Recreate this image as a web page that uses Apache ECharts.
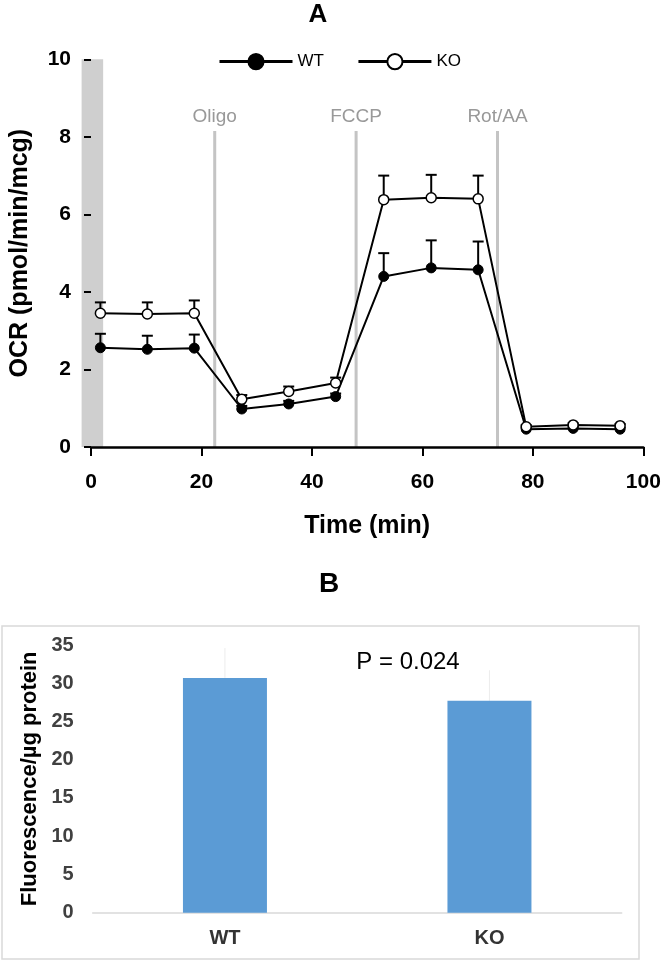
<!DOCTYPE html>
<html>
<head>
<meta charset="utf-8">
<script src="https://cdn.jsdelivr.net/npm/echarts@6/dist/echarts.min.js"></script>
<style>html,body{margin:0;padding:0;background:#fff}#c{width:664px;height:963px}</style>
</head>
<body>
<div id="c"></div>
<script>
// ---- Panel A data ----
var timeMin = [1.7, 10.2, 18.7, 27.3, 35.8, 44.3, 53.0, 61.6, 70.1, 78.8, 87.3, 95.8];
var wtOCR   = [2.56, 2.52, 2.55, 0.98, 1.11, 1.30, 4.40, 4.62, 4.57, 0.46, 0.48, 0.46];
var wtErr   = [0.36, 0.35, 0.35, 0.08, 0.08, 0.08, 0.60, 0.71, 0.73, 0.04, 0.04, 0.04];
var koOCR   = [3.45, 3.43, 3.45, 1.23, 1.43, 1.65, 6.38, 6.43, 6.40, 0.52, 0.57, 0.55];
var koErr   = [0.28, 0.30, 0.33, 0.11, 0.13, 0.14, 0.62, 0.59, 0.60, 0.04, 0.04, 0.04];
var injectNames = ['Oligo', 'FCCP', 'Rot/AA'];
var injectTimes = [22.4, 48.0, 73.6];
var injectTop = 8.15;
var baselineBand = [-1.7, 2.2];
var xTicksA = {min: 0, max: 100, interval: 20};
var yTicksA = {min: 0, max: 10, interval: 2};
// ---- Panel B data ----
var groupsB = ['WT', 'KO'];
var fluorB = [30.7, 27.7];
var fluorErrB = [3.9, 4.0];
var yTicksB = {min: 0, max: 35, interval: 5};
var pText = 'P = 0.024';

var FF = '"Liberation Sans", Arial, sans-serif';
var chart = echarts.init(document.getElementById('c'), null, {renderer: 'canvas'});

function errRender(capHalf, color, lw) {
  return function (params, api) {
    var x = api.value(0), y = api.value(1), e = api.value(2);
    var p0 = api.coord([x, y]);
    var p1 = api.coord([x, y + e]);
    return {
      type: 'group',
      children: [
        {type: 'line', shape: {x1: p0[0], y1: p0[1], x2: p1[0], y2: p1[1]}, style: {stroke: color, lineWidth: lw}},
        {type: 'line', shape: {x1: p1[0] - capHalf, y1: p1[1], x2: p1[0] + capHalf, y2: p1[1]}, style: {stroke: color, lineWidth: lw}}
      ]
    };
  };
}

var option = {
  animation: false,
  backgroundColor: '#fff',
  textStyle: {fontFamily: FF},
  graphic: [
    {type: 'text', style: {text: 'A', x: 318, y: 15, font: 'bold 26px ' + FF, fill: '#000', align: 'center', verticalAlign: 'middle'}},
    {type: 'text', style: {text: 'B', x: 329, y: 584, font: 'bold 28px ' + FF, fill: '#000', align: 'center', verticalAlign: 'middle'}},
    {type: 'rect', shape: {x: 2, y: 626, width: 637, height: 333}, style: {fill: 'none', stroke: '#d9d9d9', lineWidth: 1.5}},
    {type: 'text', style: {text: pText, x: 408, y: 662, font: '24px ' + FF, fill: '#000', align: 'center', verticalAlign: 'middle'}}
  ],
  legend: {
    data: ['WT', 'KO'],
    left: 218, top: 53, padding: 0,
    itemWidth: 73, itemHeight: 19, itemGap: 33,
    textStyle: {fontSize: 17, color: '#000', fontFamily: FF},
    lineStyle: {width: 3}
  },
  grid: [
    {left: 88.3, right: 20.7, top: 59.3, bottom: 516},
    {left: 92.7, width: 529, top: 645, height: 267.7}
  ],
  xAxis: [
    {
      gridIndex: 0, type: 'value', min: xTicksA.min, max: xTicksA.max, interval: xTicksA.interval,
      axisLine: {show: true, lineStyle: {color: '#000', width: 2.5}},
      axisTick: {show: true, length: 9, lineStyle: {color: '#000', width: 2}},
      axisLabel: {fontSize: 21, fontWeight: 'bold', color: '#000', margin: 25, fontFamily: FF},
      splitLine: {show: false},
      name: 'Time (min)', nameLocation: 'middle', nameGap: 67,
      nameTextStyle: {fontSize: 25, fontWeight: 'bold', color: '#000', fontFamily: FF}
    },
    {
      gridIndex: 1, type: 'category', data: groupsB,
      axisLine: {show: true, lineStyle: {color: '#d9d9d9', width: 1.5}},
      axisTick: {show: false},
      axisLabel: {fontSize: 20, fontWeight: 'bold', color: '#333', margin: 16, fontFamily: FF}
    }
  ],
  yAxis: [
    {
      gridIndex: 0, type: 'value', min: yTicksA.min, max: yTicksA.max, interval: yTicksA.interval,
      axisLine: {show: false},
      axisTick: {show: true, length: 7, lineStyle: {color: '#000', width: 2}},
      axisLabel: {fontSize: 21, fontWeight: 'bold', color: '#000', margin: 20, fontFamily: FF},
      splitLine: {show: false},
      name: 'OCR (pmol/min/mcg)', nameLocation: 'middle', nameRotate: 90, nameGap: 58,
      nameTextStyle: {fontSize: 25, fontWeight: 'bold', color: '#000', fontFamily: FF}
    },
    {
      gridIndex: 1, type: 'value', min: yTicksB.min, max: yTicksB.max, interval: yTicksB.interval,
      axisLine: {show: false}, axisTick: {show: false},
      axisLabel: {fontSize: 20, fontWeight: 'bold', color: '#404040', margin: 19, fontFamily: FF},
      splitLine: {show: false},
      name: 'Fluorescence/µg protein', nameLocation: 'middle', nameRotate: 90, nameGap: 47,
      nameTextStyle: {fontSize: 22, fontWeight: 'bold', color: '#000', fontFamily: FF}
    }
  ],
  series: [
    {
      name: 'band', type: 'custom', xAxisIndex: 0, yAxisIndex: 0, z: -1, silent: true,
      data: [[baselineBand[0], yTicksA.min, baselineBand[1], yTicksA.max]],
      encode: {x: [0, 2], y: [1, 3]},
      renderItem: function (params, api) {
        var a = api.coord([api.value(0), api.value(3)]);
        var b = api.coord([api.value(2), api.value(1)]);
        return {type: 'rect', shape: {x: a[0], y: a[1], width: b[0] - a[0], height: b[1] - a[1]}, style: {fill: '#cfcfcf'}};
      }
    },
    {
      name: 'inject', type: 'custom', xAxisIndex: 0, yAxisIndex: 0, z: 0, silent: true,
      data: injectTimes.map(function (t, i) { return [t, 0, injectTop, i]; }),
      encode: {x: 0, y: [1, 2]},
      renderItem: function (params, api) {
        var p0 = api.coord([api.value(0), api.value(1)]);
        var p1 = api.coord([api.value(0), api.value(2)]);
        return {type: 'group', children: [
          {type: 'line', shape: {x1: p0[0], y1: p0[1], x2: p1[0], y2: p1[1]}, style: {stroke: '#c4c4c4', lineWidth: 3}},
          {type: 'text', style: {text: injectNames[api.value(3)], x: p1[0], y: p1[1] - 14, font: '19px ' + FF, fill: '#999', align: 'center', verticalAlign: 'middle'}}
        ]};
      }
    },
    {
      name: 'WT err', type: 'custom', xAxisIndex: 0, yAxisIndex: 0, z: 1,
      data: timeMin.map(function (t, i) { return [t, wtOCR[i], wtErr[i]]; }),
      encode: {x: 0, y: 1},
      renderItem: errRender(5.5, '#000', 2)
    },
    {
      name: 'KO err', type: 'custom', xAxisIndex: 0, yAxisIndex: 0, z: 1,
      data: timeMin.map(function (t, i) { return [t, koOCR[i], koErr[i]]; }),
      encode: {x: 0, y: 1},
      renderItem: errRender(5.5, '#000', 2)
    },
    {
      name: 'WT', type: 'line', xAxisIndex: 0, yAxisIndex: 0, z: 3,
      data: timeMin.map(function (t, i) { return [t, wtOCR[i]]; }),
      symbol: 'circle', symbolSize: 10,
      itemStyle: {color: '#000', borderColor: '#000', borderWidth: 1},
      lineStyle: {color: '#000', width: 2}
    },
    {
      name: 'KO', type: 'line', xAxisIndex: 0, yAxisIndex: 0, z: 4,
      data: timeMin.map(function (t, i) { return [t, koOCR[i]]; }),
      symbol: 'circle', symbolSize: 10,
      itemStyle: {color: '#fff', borderColor: '#000', borderWidth: 1.5},
      lineStyle: {color: '#000', width: 2}
    },
    {
      name: 'Fluor err', type: 'custom', xAxisIndex: 1, yAxisIndex: 1, z: 1, silent: true,
      data: groupsB.map(function (g, i) { return [i, fluorB[i], fluorErrB[i]]; }),
      encode: {x: 0, y: 1},
      renderItem: errRender(0, '#ececec', 1)
    },
    {
      name: 'Fluorescence', type: 'bar', xAxisIndex: 1, yAxisIndex: 1, z: 2,
      data: fluorB, barWidth: 84,
      itemStyle: {color: '#5b9bd5'}
    }
  ]
};
chart.setOption(option);
</script>
</body>
</html>
